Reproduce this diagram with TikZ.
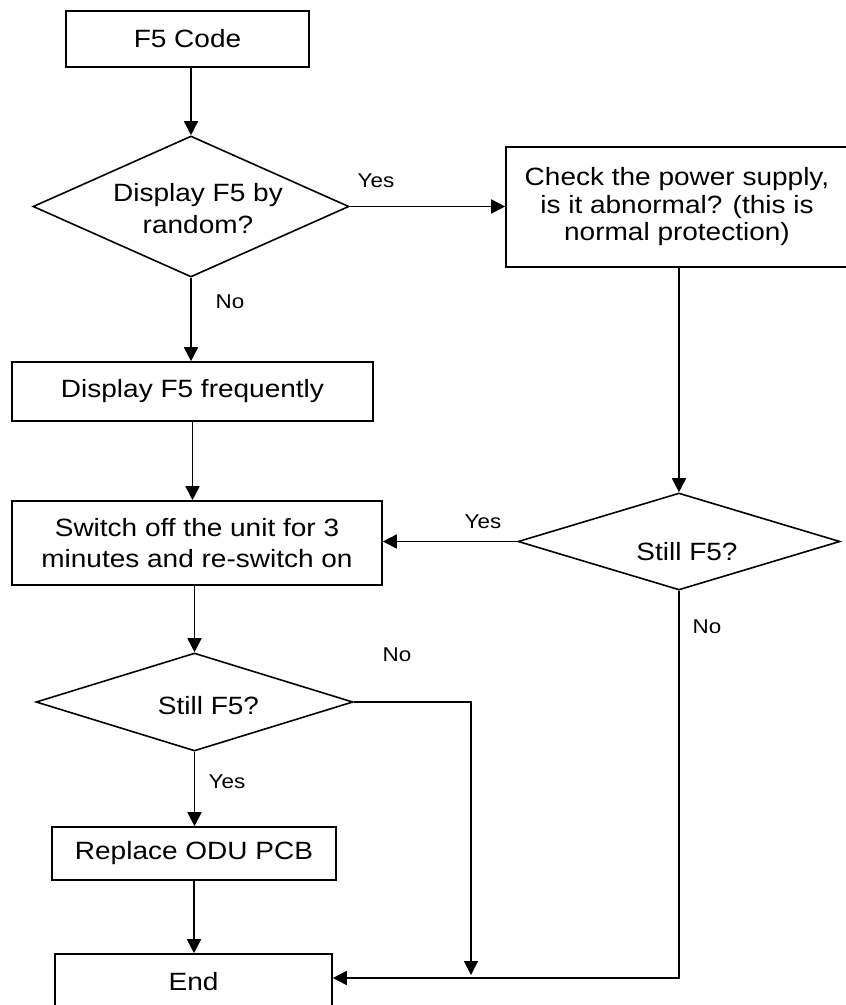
\documentclass[tikz,border=0pt]{standalone}
\usepackage{fontspec}
\setmainfont{Liberation Sans}[FakeStretch=1.12]
\usetikzlibrary{shapes.geometric,arrows.meta}
\begin{document}
\begin{tikzpicture}[x=1pt,y=-1pt,
  line width=1.6pt,
  box/.style={draw,rectangle,inner sep=0pt,align=center,font=\fontsize{25}{31.5}\selectfont},
  dia/.style={draw,diamond,inner sep=0pt,aspect=2},
  txt/.style={align=center,font=\fontsize{25}{31.5}\selectfont,inner sep=0pt},
  lbl/.style={font=\fontsize{20}{24}\selectfont,inner sep=0pt},
  arr/.style={-{Triangle[length=14pt,width=14pt]}}
]
\fill[white] (0,0) rectangle (846,1005);
\clip (0,0) rectangle (846,1005);
\node[box,minimum width=243,minimum height=56] (f5) at (187.5,39) {F5 Code};
\node[dia,minimum width=316,minimum height=141,label={[txt,xshift=7pt,yshift=-2pt]center:Display F5 by\\random?}] (d1) at (191,206.5) {};
\node[box,minimum width=342,minimum height=120,font=\fontsize{25}{27.5}\selectfont] (chk) at (677,207) {Check the power supply,\\is it abnormal? (this is\\normal protection)};
\node[box,minimum width=361,minimum height=59] (disp) at (192.5,391.5) {Display F5 frequently};
\node[box,minimum width=370,minimum height=84] (sw) at (197,543) {Switch off the unit for 3\\minutes and re-switch on};
\node[dia,minimum width=322,minimum height=97,label={[txt,xshift=8pt,yshift=-10pt]center:Still F5?}] (d2) at (679,541.5) {};
\node[dia,minimum width=317,minimum height=98,label={[txt,xshift=14pt,yshift=-4pt]center:Still F5?}] (d3) at (194.5,702) {};
\node[box,minimum width=284,minimum height=53] (rep) at (194,853.5) {Replace ODU PCB};
\node[box,minimum width=277,minimum height=56] (end) at (193.5,982) {End};
\coordinate (bot) at (0,978);
\coordinate (j1) at (471,0);
\coordinate (j2) at (471,975);
\draw[arr] (d1.north |- f5.south) -- (d1.north);
\draw[arr] (d1.south) -- (d1.south |- disp.north);
\draw[arr] (d1.east) -- (chk.west |- d1.east);
\draw[arr] (chk.south -| d2.north) -- (d2.north);
\draw[arr] (disp.south) -- (disp.south |- sw.north);
\draw[arr] (d2.west) -- (sw.east |- d2.west);
\draw[arr] (d3.north |- sw.south) -- (d3.north);
\draw[arr] (d3.south) -- (d3.south |- rep.north);
\draw[arr] (rep.south) -- (rep.south |- end.north);
\draw[arr] (d2.south) -- (d2.south |- bot) -- (end.east |- bot);
\draw[arr] (d3.east) -- (d3.east -| j1) -- (j2);
\node[lbl] (y1) at (376,181) {Yes};
\node[lbl] (n1) at (230,302) {No};
\node[lbl] (y2) at (483,522) {Yes};
\node[lbl] (n2) at (707,627) {No};
\node[lbl] (n3) at (397,655) {No};
\node[lbl] (y3) at (227,782) {Yes};
\end{tikzpicture}
\end{document}
